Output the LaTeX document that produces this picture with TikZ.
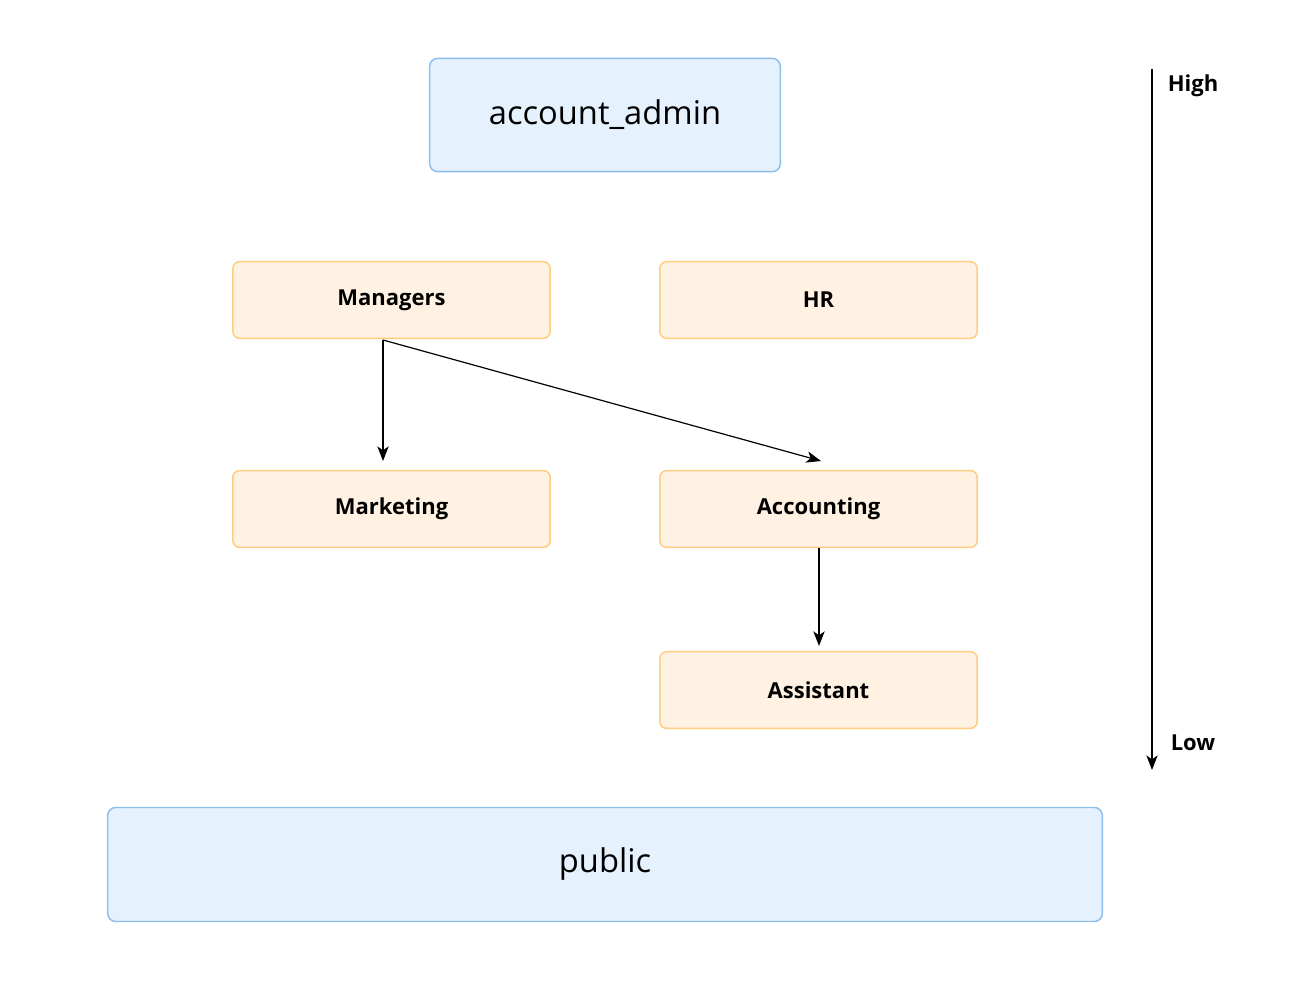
\documentclass[tikz,border=0pt]{standalone}
\usepackage{fontspec}
\setmainfont{Open Sans}
\usetikzlibrary{arrows.meta,calc}

\definecolor{adminfill}{HTML}{E5F2FE}
\definecolor{admindraw}{HTML}{8CBEEB}
\definecolor{rolefill}{HTML}{FFF2E3}
\definecolor{roledraw}{HTML}{FFCC80}

\begin{document}
\begin{tikzpicture}[x=0.75pt,y=-0.75pt,
    adminbox/.style={draw=admindraw, fill=adminfill, line width=1.1pt, rounded corners=6pt, font=\fontsize{24.5}{29}\selectfont},
    rolebox/.style={draw=roledraw, fill=rolefill, line width=1.1pt, rounded corners=5pt, minimum width=238pt, minimum height=57.5pt, font=\fontsize{16.5}{20}\selectfont\bfseries},
    arr/.style={-{Stealth[length=11pt,width=8.5pt,inset=3pt]}, line width=0.9pt}]
    % canvas
    \useasboundingbox (0,0) rectangle (1310,981);
    % Draw the top and bottom roles
    \node[adminbox, minimum width=263pt, minimum height=85pt] (admin) at (605,115) {account\_admin};
    \node[adminbox, minimum width=746pt, minimum height=85.5pt] (public) at (605,864.5) {public};
    % Draw the elements
    \node[rolebox] (managers) at (391.5,300) {Managers};
    \node[rolebox] (hr) at (818.5,300) {HR};
    \node[rolebox] (marketing) at (391.5,509) {Marketing};
    \node[rolebox] (accounting) at (818.5,509) {Accounting};
    \node[rolebox] (assistant) at (818.5,690) {Assistant};
    % arrows
    \coordinate (mstart) at (383,340);
    \coordinate (mkend) at (383,461);
    \coordinate (acend) at (821,461);
    \coordinate (asend) at (819,646);
    \draw[arr] (mstart) -- (mkend);
    \draw[arr] (mstart) -- (acend);
    \draw[arr] (accounting.south -| asend) -- (asend);
    % scale
    \coordinate (top) at (1152,69);
    \coordinate (bottom) at (1152,770);
    \draw[arr] (top) -- (bottom);
    \node[font=\fontsize{16.5}{20}\selectfont\bfseries] (high) at (1193,86) {High};
    \node[font=\fontsize{16.5}{20}\selectfont\bfseries] (low) at (1193,743) {Low};
\end{tikzpicture}
\end{document}
